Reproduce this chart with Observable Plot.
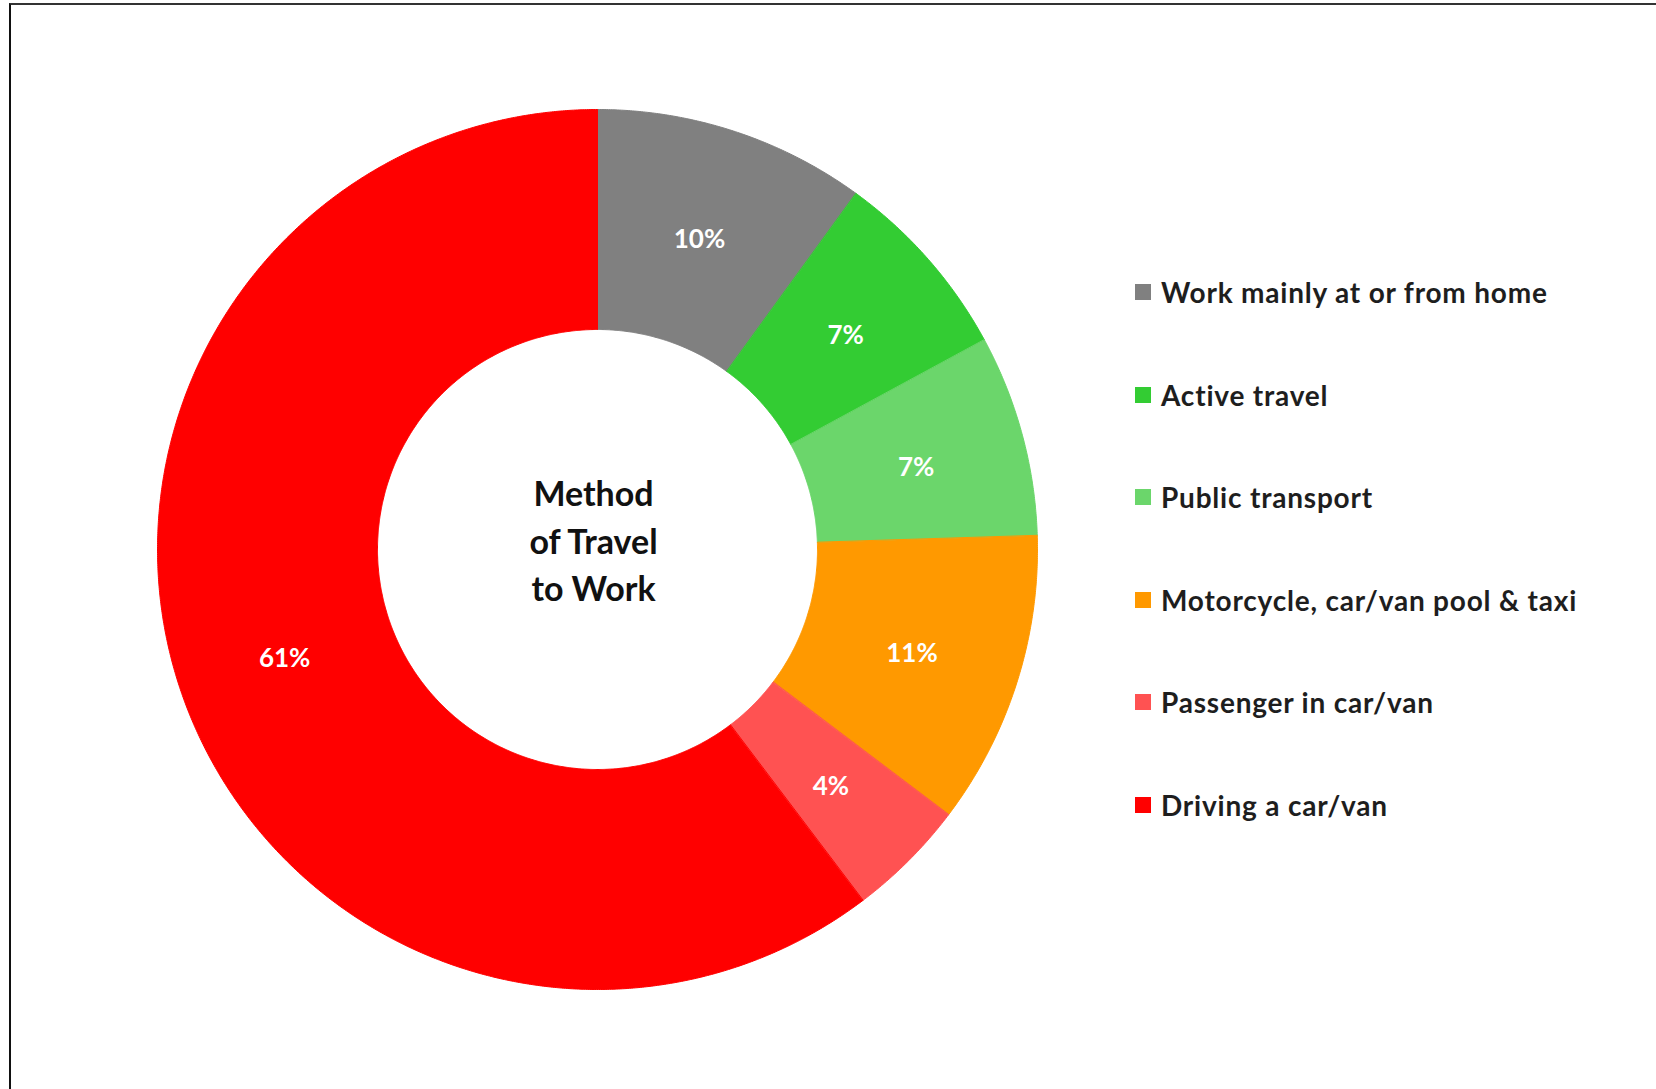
<!DOCTYPE html>
<html>
<head>
<meta charset="utf-8">
<script src="https://cdn.jsdelivr.net/npm/d3@7"></script>
<script src="https://cdn.jsdelivr.net/npm/@observablehq/plot@0.6"></script>
<style>
  html, body { margin: 0; padding: 0; background: #fff; }
  #page { position: relative; width: 1656px; height: 1089px; overflow: hidden; background: #fff; font-family: Lato, "Open Sans", sans-serif; }
  #frame { position: absolute; left: 9px; top: 3px; right: -10px; bottom: -10px; border-left: 2px solid #111; border-top: 2px solid #333; }
  #chart { position: absolute; left: 0; top: 0; }
  #legend { position: absolute; left: 1135px; top: 241px; }
  .row { height: 102.5px; display: flex; align-items: center; }
  .sw { width: 16px; height: 16px; margin-right: 10px; flex: none; }
  .lab { font-size: 28px; font-weight: 700; color: #1e1e1e; white-space: nowrap; letter-spacing: 0.8px; }
</style>
</head>
<body>
<div id="page">
  <div id="frame"></div>
  <div id="chart"></div>
  <div id="legend"></div>
</div>
<script>
// ---- data ----
const categories = [
  "Work mainly at or from home",
  "Active travel",
  "Public transport",
  "Motorcycle, car/van pool & taxi",
  "Passenger in car/van",
  "Driving a car/van"
];
const values = [10.0, 7.1, 7.4, 10.8, 4.4, 60.3];
const valueLabels = ["10%", "7%", "7%", "11%", "4%", "61%"];
const colors = ["#808080", "#33cc33", "#6bd66b", "#ff9900", "#ff5252", "#ff0000"];
const centerTitle = "Method\nof Travel\nto Work";

// ---- layout ----
const W = 1656, H = 1089;
const cx = 597, cy = 549, R = 440, r0 = 220;

const table = categories.map((c, i) => ({cat: c, value: values[i], label: valueLabels[i]}));
const arcs = d3.pie().sort(null).value(d => d.value).startAngle(0).endAngle(2 * Math.PI)(table);

// polygon outline of each ring slice (angle measured clockwise from 12 o'clock)
const rows = [];
for (const a of arcs) {
  const n = Math.max(2, Math.ceil((a.endAngle - a.startAngle) / 0.005));
  const outer = d3.range(n + 1).map(k => a.startAngle + (a.endAngle - a.startAngle) * k / n);
  for (const t of outer) rows.push({cat: a.data.cat, x: R * Math.sin(t), y: R * Math.cos(t)});
  for (const t of outer.slice().reverse()) rows.push({cat: a.data.cat, x: r0 * Math.sin(t), y: r0 * Math.cos(t)});
}
const labelRows = arcs.map(a => {
  const m = (a.startAngle + a.endAngle) / 2, rr = (R + r0) / 2;
  return {x: rr * Math.sin(m), y: rr * Math.cos(m), text: a.data.label};
});

const chart = Plot.plot({
  width: W,
  height: H,
  margin: 0,
  style: {background: "transparent", fontFamily: "Lato, 'Open Sans', sans-serif"},
  x: {domain: [-cx, W - cx], range: [0, W], axis: null},
  y: {domain: [-(H - cy), cy], range: [H, 0], axis: null},
  color: {domain: categories, range: colors},
  marks: [
    Plot.line(rows, {x: "x", y: "y", z: "cat", fill: "cat", stroke: "cat", strokeWidth: 1, curve: "linear-closed"}),
    Plot.text(labelRows, {x: "x", y: "y", text: "text", dy: 4, fill: "white", fontSize: 26, fontWeight: "bold"}),
    Plot.text([centerTitle], {x: () => 0, y: () => 0, dx: -4, dy: -11, text: d => d, fill: "#111", fontSize: 34, fontWeight: "bold", lineHeight: 1.4})
  ]
});
document.getElementById("chart").appendChild(chart);

// ---- legend ----
const legend = document.getElementById("legend");
categories.forEach((c, i) => {
  const row = document.createElement("div");
  row.className = "row";
  const sw = document.createElement("span");
  sw.className = "sw";
  sw.style.background = colors[i];
  const lab = document.createElement("span");
  lab.className = "lab";
  lab.textContent = c;
  row.appendChild(sw);
  row.appendChild(lab);
  legend.appendChild(row);
});
</script>
</body>
</html>
